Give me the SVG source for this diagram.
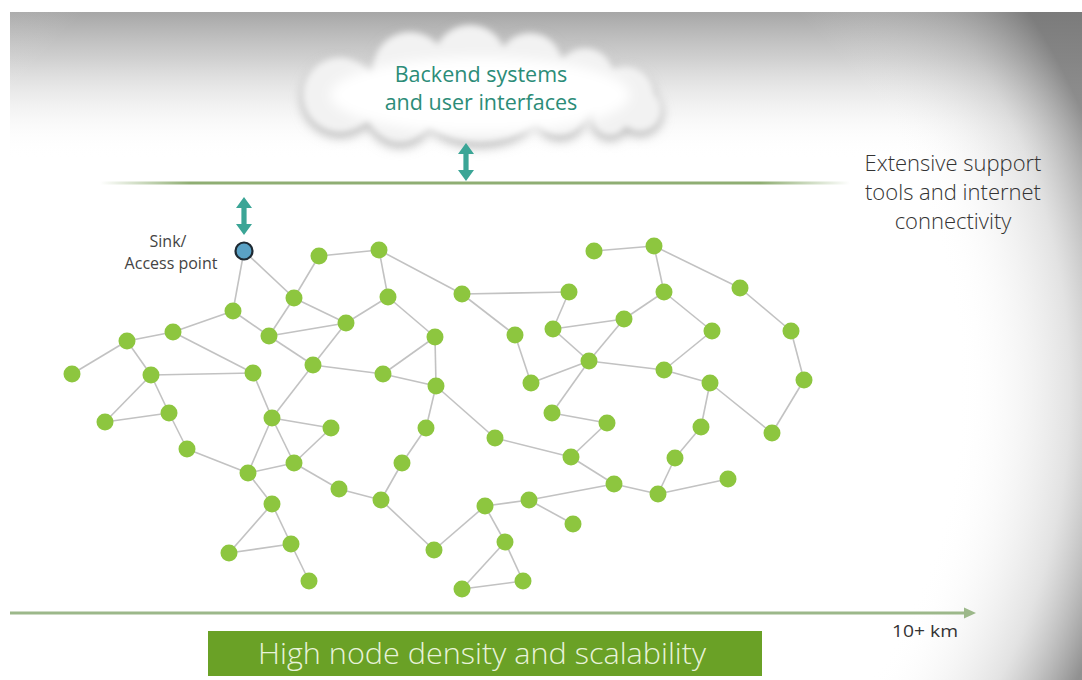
<svg xmlns="http://www.w3.org/2000/svg" width="1082" height="680" viewBox="0 0 1082 680">
<defs>
<style>
.e{stroke:#c2c2c2;stroke-width:1.6;fill:none}
.n circle{fill:#8dc63f}
.arr{fill:#3ba596}
.t{font-family:"Open Sans","Liberation Sans",sans-serif}
</style>
<linearGradient id="topShade" x1="0" y1="0" x2="0" y2="1">
<stop offset="0" stop-color="#a6a6a6" stop-opacity="1"/>
<stop offset="0.07" stop-color="#c4c4c4" stop-opacity="0.8"/>
<stop offset="0.22" stop-color="#ffffff" stop-opacity="0"/>
</linearGradient>
<radialGradient id="vign" gradientUnits="userSpaceOnUse" cx="440" cy="390" r="700">
<stop offset="0" stop-color="#ffffff" stop-opacity="0"/>
<stop offset="0.74" stop-color="#ffffff" stop-opacity="0"/>
<stop offset="0.9" stop-color="#a0a0a0" stop-opacity="0.3"/>
<stop offset="1" stop-color="#6c6c6c" stop-opacity="0.75"/>
</radialGradient>
<linearGradient id="hline" x1="100" y1="0" x2="850" y2="0" gradientUnits="userSpaceOnUse">
<stop offset="0" stop-color="#8fae73" stop-opacity="0"/>
<stop offset="0.12" stop-color="#8fae73"/>
<stop offset="0.88" stop-color="#8fae73"/>
<stop offset="1" stop-color="#8fae73" stop-opacity="0"/>
</linearGradient>
<filter id="blur6" x="-20%" y="-40%" width="140%" height="180%"><feGaussianBlur stdDeviation="6"/></filter>
<filter id="blur3" x="-20%" y="-40%" width="140%" height="180%"><feGaussianBlur stdDeviation="3"/></filter>
<filter id="blur2" x="-10%" y="-300%" width="120%" height="700%"><feGaussianBlur stdDeviation="2"/></filter>
<g id="cloudShape">
<circle cx="340" cy="95" r="38"/>
<circle cx="410" cy="70" r="38"/>
<circle cx="470" cy="62" r="37"/>
<circle cx="530" cy="66" r="33"/>
<circle cx="585" cy="78" r="30"/>
<circle cx="625" cy="96" r="30"/>
<circle cx="640" cy="110" r="22"/>
<ellipse cx="480" cy="105" rx="60" ry="38"/>
<circle cx="400" cy="110" r="33"/>
<circle cx="560" cy="110" r="26"/>
<circle cx="610" cy="118" r="18"/>
</g>
<path id="dbl" d="M0,0 L8,11 L2.6,11 L2.6,27 L8,27 L0,38 L-8,27 L-2.6,27 L-2.6,11 L-8,11 Z"/>
</defs>

<!-- background -->
<rect x="0" y="0" width="1082" height="680" fill="#ffffff"/>
<rect x="10" y="12" width="1072" height="668" fill="#ffffff"/>
<rect x="10" y="12" width="1072" height="668" fill="url(#topShade)"/>
<rect x="10" y="12" width="1072" height="668" fill="url(#vign)"/>

<!-- cloud -->
<g id="cloud">
<use href="#cloudShape" fill="#b0b0b0" filter="url(#blur6)" transform="translate(0,4)"/>
<use href="#cloudShape" fill="#f2f2f2" filter="url(#blur3)"/>
<ellipse cx="480" cy="95" rx="150" ry="38" fill="#ffffff" filter="url(#blur6)"/>
<text class="t" x="481" y="82" font-size="21.5" fill="#2c8c78" text-anchor="middle">Backend systems</text>
<text class="t" x="481" y="110" font-size="21.5" fill="#2c8c78" text-anchor="middle">and user interfaces</text>
</g>

<!-- internet layer line -->
<g id="internet-line">
<line x1="100" y1="187" x2="850" y2="187" stroke="#9a9a9a" stroke-width="3" opacity="0.5" filter="url(#blur2)"/>
<line x1="100" y1="183" x2="850" y2="183" stroke="url(#hline)" stroke-width="3"/>
</g>

<g id="arrows">
<use href="#dbl" class="arr" transform="translate(466,143)"/>
<use href="#dbl" class="arr" transform="translate(244,197)"/>
</g>

<g id="support-label">
<text class="t" x="953" y="171" font-size="22" font-weight="300" fill="#333333" text-anchor="middle">Extensive support</text>
<text class="t" x="953" y="200" font-size="22" font-weight="300" fill="#333333" text-anchor="middle">tools and internet</text>
<text class="t" x="953" y="229" font-size="22" font-weight="300" fill="#333333" text-anchor="middle">connectivity</text>
</g>

<g id="connectors">
<line class="e" x1="244" y1="251" x2="233" y2="311"/>
<line class="e" x1="244" y1="251" x2="294" y2="298"/>
<line class="e" x1="294" y1="298" x2="319" y2="256"/>
<line class="e" x1="319" y1="256" x2="379" y2="250"/>
<line class="e" x1="379" y1="250" x2="462" y2="294"/>
<line class="e" x1="379" y1="250" x2="388" y2="297"/>
<line class="e" x1="294" y1="298" x2="346" y2="323"/>
<line class="e" x1="294" y1="298" x2="269" y2="336"/>
<line class="e" x1="269" y1="336" x2="346" y2="323"/>
<line class="e" x1="233" y1="311" x2="269" y2="336"/>
<line class="e" x1="269" y1="336" x2="313" y2="365"/>
<line class="e" x1="346" y1="323" x2="313" y2="365"/>
<line class="e" x1="388" y1="297" x2="346" y2="323"/>
<line class="e" x1="388" y1="297" x2="435" y2="337"/>
<line class="e" x1="435" y1="337" x2="383" y2="374"/>
<line class="e" x1="435" y1="337" x2="436" y2="386"/>
<line class="e" x1="313" y1="365" x2="383" y2="374"/>
<line class="e" x1="383" y1="374" x2="436" y2="386"/>
<line class="e" x1="233" y1="311" x2="173" y2="332"/>
<line class="e" x1="173" y1="332" x2="127" y2="341"/>
<line class="e" x1="127" y1="341" x2="72" y2="374"/>
<line class="e" x1="127" y1="341" x2="151" y2="375"/>
<line class="e" x1="173" y1="332" x2="253" y2="373"/>
<line class="e" x1="151" y1="375" x2="253" y2="373"/>
<line class="e" x1="151" y1="375" x2="105" y2="422"/>
<line class="e" x1="105" y1="422" x2="169" y2="413"/>
<line class="e" x1="151" y1="375" x2="169" y2="413"/>
<line class="e" x1="169" y1="413" x2="187" y2="449"/>
<line class="e" x1="187" y1="449" x2="248" y2="473"/>
<line class="e" x1="253" y1="373" x2="272" y2="418"/>
<line class="e" x1="313" y1="365" x2="272" y2="418"/>
<line class="e" x1="272" y1="418" x2="331" y2="428"/>
<line class="e" x1="272" y1="418" x2="294" y2="463"/>
<line class="e" x1="331" y1="428" x2="294" y2="463"/>
<line class="e" x1="272" y1="418" x2="248" y2="473"/>
<line class="e" x1="248" y1="473" x2="294" y2="463"/>
<line class="e" x1="294" y1="463" x2="339" y2="489"/>
<line class="e" x1="339" y1="489" x2="381" y2="500"/>
<line class="e" x1="381" y1="500" x2="402" y2="463"/>
<line class="e" x1="402" y1="463" x2="426" y2="428"/>
<line class="e" x1="426" y1="428" x2="436" y2="386"/>
<line class="e" x1="381" y1="500" x2="434" y2="550"/>
<line class="e" x1="434" y1="550" x2="485" y2="506"/>
<line class="e" x1="436" y1="386" x2="495" y2="438"/>
<line class="e" x1="248" y1="473" x2="272" y2="504"/>
<line class="e" x1="272" y1="504" x2="229" y2="553"/>
<line class="e" x1="272" y1="504" x2="291" y2="544"/>
<line class="e" x1="229" y1="553" x2="291" y2="544"/>
<line class="e" x1="291" y1="544" x2="309" y2="581"/>
<line class="e" x1="594" y1="251" x2="654" y2="246"/>
<line class="e" x1="654" y1="246" x2="740" y2="288"/>
<line class="e" x1="654" y1="246" x2="664" y2="292"/>
<line class="e" x1="740" y1="288" x2="791" y2="331"/>
<line class="e" x1="791" y1="331" x2="804" y2="380"/>
<line class="e" x1="804" y1="380" x2="772" y2="433"/>
<line class="e" x1="772" y1="433" x2="710" y2="383"/>
<line class="e" x1="664" y1="292" x2="624" y2="319"/>
<line class="e" x1="664" y1="292" x2="712" y2="331"/>
<line class="e" x1="712" y1="331" x2="664" y2="370"/>
<line class="e" x1="664" y1="370" x2="710" y2="383"/>
<line class="e" x1="589" y1="361" x2="664" y2="370"/>
<line class="e" x1="553" y1="329" x2="624" y2="319"/>
<line class="e" x1="553" y1="329" x2="589" y2="361"/>
<line class="e" x1="624" y1="319" x2="589" y2="361"/>
<line class="e" x1="569" y1="292" x2="553" y2="329"/>
<line class="e" x1="462" y1="294" x2="569" y2="292"/>
<line class="e" x1="462" y1="294" x2="515" y2="335"/>
<line class="e" x1="515" y1="335" x2="531" y2="383"/>
<line class="e" x1="531" y1="383" x2="589" y2="361"/>
<line class="e" x1="589" y1="361" x2="552" y2="413"/>
<line class="e" x1="552" y1="413" x2="607" y2="423"/>
<line class="e" x1="607" y1="423" x2="571" y2="457"/>
<line class="e" x1="495" y1="438" x2="571" y2="457"/>
<line class="e" x1="571" y1="457" x2="614" y2="484"/>
<line class="e" x1="614" y1="484" x2="658" y2="494"/>
<line class="e" x1="658" y1="494" x2="675" y2="458"/>
<line class="e" x1="675" y1="458" x2="701" y2="427"/>
<line class="e" x1="701" y1="427" x2="710" y2="383"/>
<line class="e" x1="658" y1="494" x2="728" y2="479"/>
<line class="e" x1="614" y1="484" x2="529" y2="500"/>
<line class="e" x1="529" y1="500" x2="485" y2="506"/>
<line class="e" x1="529" y1="500" x2="573" y2="524"/>
<line class="e" x1="485" y1="506" x2="505" y2="542"/>
<line class="e" x1="505" y1="542" x2="462" y2="589"/>
<line class="e" x1="505" y1="542" x2="523" y2="581"/>
<line class="e" x1="462" y1="589" x2="523" y2="581"/>
</g>

<g id="sink">
<circle cx="244" cy="251" r="8.5" fill="#5aa2c6" stroke="#1e2a33" stroke-width="2.2"/>
<text class="t" x="168" y="247" font-size="16" fill="#444444" text-anchor="middle">Sink/</text>
<text class="t" x="171" y="269" font-size="16" fill="#444444" text-anchor="middle">Access point</text>
</g>

<g id="n1" class="n"><circle cx="319" cy="256" r="8.5"/></g>
<g id="n2" class="n"><circle cx="379" cy="250" r="8.5"/></g>
<g id="n3" class="n"><circle cx="294" cy="298" r="8.5"/></g>
<g id="n4" class="n"><circle cx="388" cy="297" r="8.5"/></g>
<g id="n5" class="n"><circle cx="233" cy="311" r="8.5"/></g>
<g id="n6" class="n"><circle cx="346" cy="323" r="8.5"/></g>
<g id="n7" class="n"><circle cx="269" cy="336" r="8.5"/></g>
<g id="n8" class="n"><circle cx="173" cy="332" r="8.5"/></g>
<g id="n9" class="n"><circle cx="127" cy="341" r="8.5"/></g>
<g id="n10" class="n"><circle cx="435" cy="337" r="8.5"/></g>
<g id="n11" class="n"><circle cx="72" cy="374" r="8.5"/></g>
<g id="n12" class="n"><circle cx="151" cy="375" r="8.5"/></g>
<g id="n13" class="n"><circle cx="253" cy="373" r="8.5"/></g>
<g id="n14" class="n"><circle cx="313" cy="365" r="8.5"/></g>
<g id="n15" class="n"><circle cx="383" cy="374" r="8.5"/></g>
<g id="n16" class="n"><circle cx="436" cy="386" r="8.5"/></g>
<g id="n17" class="n"><circle cx="105" cy="422" r="8.5"/></g>
<g id="n18" class="n"><circle cx="169" cy="413" r="8.5"/></g>
<g id="n19" class="n"><circle cx="272" cy="418" r="8.5"/></g>
<g id="n20" class="n"><circle cx="331" cy="428" r="8.5"/></g>
<g id="n21" class="n"><circle cx="426" cy="428" r="8.5"/></g>
<g id="n22" class="n"><circle cx="187" cy="449" r="8.5"/></g>
<g id="n23" class="n"><circle cx="294" cy="463" r="8.5"/></g>
<g id="n24" class="n"><circle cx="248" cy="473" r="8.5"/></g>
<g id="n25" class="n"><circle cx="402" cy="463" r="8.5"/></g>
<g id="n26" class="n"><circle cx="339" cy="489" r="8.5"/></g>
<g id="n27" class="n"><circle cx="381" cy="500" r="8.5"/></g>
<g id="n28" class="n"><circle cx="272" cy="504" r="8.5"/></g>
<g id="n29" class="n"><circle cx="229" cy="553" r="8.5"/></g>
<g id="n30" class="n"><circle cx="291" cy="544" r="8.5"/></g>
<g id="n31" class="n"><circle cx="434" cy="550" r="8.5"/></g>
<g id="n32" class="n"><circle cx="309" cy="581" r="8.5"/></g>
<g id="m1" class="n"><circle cx="594" cy="251" r="8.5"/></g>
<g id="m2" class="n"><circle cx="654" cy="246" r="8.5"/></g>
<g id="m3" class="n"><circle cx="462" cy="294" r="8.5"/></g>
<g id="m4" class="n"><circle cx="569" cy="292" r="8.5"/></g>
<g id="m5" class="n"><circle cx="664" cy="292" r="8.5"/></g>
<g id="m6" class="n"><circle cx="740" cy="288" r="8.5"/></g>
<g id="m7" class="n"><circle cx="515" cy="335" r="8.5"/></g>
<g id="m8" class="n"><circle cx="553" cy="329" r="8.5"/></g>
<g id="m9" class="n"><circle cx="624" cy="319" r="8.5"/></g>
<g id="m10" class="n"><circle cx="712" cy="331" r="8.5"/></g>
<g id="m11" class="n"><circle cx="791" cy="331" r="8.5"/></g>
<g id="m12" class="n"><circle cx="589" cy="361" r="8.5"/></g>
<g id="m13" class="n"><circle cx="664" cy="370" r="8.5"/></g>
<g id="m14" class="n"><circle cx="710" cy="383" r="8.5"/></g>
<g id="m15" class="n"><circle cx="804" cy="380" r="8.5"/></g>
<g id="m16" class="n"><circle cx="531" cy="383" r="8.5"/></g>
<g id="m17" class="n"><circle cx="552" cy="413" r="8.5"/></g>
<g id="m18" class="n"><circle cx="607" cy="423" r="8.5"/></g>
<g id="m19" class="n"><circle cx="701" cy="427" r="8.5"/></g>
<g id="m20" class="n"><circle cx="772" cy="433" r="8.5"/></g>
<g id="m21" class="n"><circle cx="495" cy="438" r="8.5"/></g>
<g id="m22" class="n"><circle cx="571" cy="457" r="8.5"/></g>
<g id="m23" class="n"><circle cx="675" cy="458" r="8.5"/></g>
<g id="m24" class="n"><circle cx="614" cy="484" r="8.5"/></g>
<g id="m25" class="n"><circle cx="658" cy="494" r="8.5"/></g>
<g id="m26" class="n"><circle cx="728" cy="479" r="8.5"/></g>
<g id="m27" class="n"><circle cx="485" cy="506" r="8.5"/></g>
<g id="m28" class="n"><circle cx="529" cy="500" r="8.5"/></g>
<g id="m29" class="n"><circle cx="573" cy="524" r="8.5"/></g>
<g id="m30" class="n"><circle cx="505" cy="542" r="8.5"/></g>
<g id="m31" class="n"><circle cx="523" cy="581" r="8.5"/></g>
<g id="m32" class="n"><circle cx="462" cy="589" r="8.5"/></g>

<g id="distance-axis">
<line x1="10" y1="613" x2="966" y2="613" stroke="#9cb88a" stroke-width="3"/>
<polygon points="964,607.5 976,613 964,618.5" fill="#9cb88a"/>
<text class="t" x="892" y="637" font-size="17" fill="#333333" textLength="66" lengthAdjust="spacingAndGlyphs">10+ km</text>
</g>

<g id="banner">
<rect x="208" y="631" width="554" height="45" fill="#6aa126"/>
<text class="t" x="482" y="664" font-size="30" font-weight="300" fill="#e8f3da" text-anchor="middle" textLength="448" lengthAdjust="spacingAndGlyphs">High node density and scalability</text>
</g>
</svg>
